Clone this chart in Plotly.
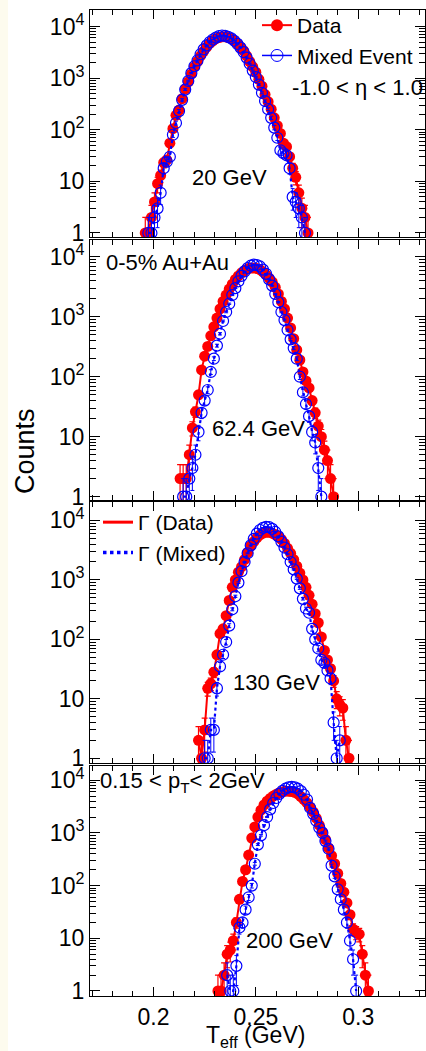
import numpy as np
import plotly.graph_objects as go
from plotly.subplots import make_subplots

# histogram bins: first bin centre of each panel and common bin width (GeV)
bin_start = [0.1960, 0.2130, 0.2220, 0.2315]
bin_width = 0.0015
energies = ["20 GeV", "62.4 GeV", "130 GeV", "200 GeV"]

# counts, one list per panel
data_20 = [1, 1, 2, 4, 9, 13, 23, 26, 55, 105, 190, 240, 400, 620, 850, 1200, 1650, 2100,
           2700, 3300, 4000, 4700, 5300, 5800, 6100, 6300, 6300, 6100, 5800, 5300, 4700,
           4000, 3400, 2700, 2100, 1650, 1300, 950, 700, 480, 350, 250, 170, 120, 85, 55,
           47, 30, 18, 12, 6, 3, 2, 1]
mixed_20 = [None, 1, 1, 2, 3, 6, 18, 24, 30, 80, 135, 230, 380, 600, 880, 1250, 1700, 2200,
            2900, 3600, 4300, 5000, 5600, 6100, 6500, 6700, 6600, 6300, 5900, 5300, 4600,
            3900, 3200, 2500, 1900, 1400, 1050, 750, 520, 360, 250, 170, 110, 70, 40, 35,
            32, 18, 5, 4, 3, 2, 1, None]

data_62 = [2, 2, 2, 5, 14, 26, 50, 130, 220, 320, 480, 680, 950, 1350, 1800, 2300, 2900,
           3500, 4200, 4800, 5400, 5900, 6300, 6500, 6500, 6400, 6100, 5600, 5000, 4400,
           3800, 3100, 2400, 1800, 1350, 950, 650, 430, 280, 190, 120, 85, 65, 40, 25, 15,
           10, 6, 4, 2, 1]
mixed_62 = [None, 1, 1, 2, 3, 5, 12, 25, 40, 60, 120, 200, 330, 520, 850, 1200, 1650, 2300,
            3000, 3900, 4800, 5700, 6500, 7100, 7400, 7300, 6900, 6100, 5200, 4200, 3300,
            2400, 1750, 1200, 880, 600, 420, 300, 200, 100, 55, 35, 22, 12, 8, 3, 1, None,
            None, None, None]

data_130 = [2, 1, 3, 15, 18, 28, 55, 125, 150, 250, 450, 750, 1000, 1350, 1650, 2200, 2900,
            3700, 4400, 5100, 5700, 6100, 6300, 6300, 6100, 5800, 5400, 4800, 4100, 3400,
            2800, 2200, 1700, 1300, 1000, 750, 550, 390, 270, 190, 110, 65, 45, 32, 20, 10,
            8, 7, 2, 1]
mixed_130 = [None, None, 1, 1, 3, 3, 15, 35, 55, 90, 170, 320, 530, 900, 1400, 2000, 2800,
             3800, 4900, 6000, 6900, 7500, 7800, 7700, 7200, 6400, 5400, 4400, 3500, 2700,
             2000, 1500, 1050, 720, 480, 330, 280, 150, 100, 70, 45, 40, 30, 22, 4, 1, 2,
             None, None, None]

data_200 = [1, 1, 2, 5, 6, 9, 20, 55, 120, 200, 380, 800, 1300, 2000, 2700, 3400, 4000,
            4500, 5000, 5400, 5800, 6000, 6200, 6200, 6100, 5900, 5500, 4900, 4300, 3700,
            3100, 2500, 1900, 1400, 1050, 750, 520, 370, 260, 170, 110, 75, 47, 28, 15, 13,
            12, 5, 2, 1]
mixed_200 = [None, None, None, 2, 1, 1, 3, 16, 20, 35, 60, 100, 260, 600, 900, 1400, 2000,
             2800, 3700, 4600, 5500, 6300, 6900, 7300, 7500, 7300, 6900, 6200, 5300, 4300,
             3000, 2300, 1700, 1250, 1000, 700, 500, 240, 150, 85, 55, 35, 20, 9, 4, 1, None,
             None, None, None]

data_sets = [data_20, data_62, data_130, data_200]
mixed_sets = [mixed_20, mixed_62, mixed_130, mixed_200]

RED = "#ff0000"
BLUE = "#0000ff"
FONT = "Liberation Sans"

fig = make_subplots(rows=4, cols=1, shared_xaxes=True)

for i in range(4):
    row = i + 1
    d = np.array(data_sets[i], dtype=float)
    m = np.array([np.nan if v is None else v for v in mixed_sets[i]], dtype=float)
    x = bin_start[i] + bin_width * np.arange(len(d))

    fig.add_trace(go.Scatter(
        x=x, y=d, mode="lines+markers",
        line=dict(color=RED, width=2),
        marker=dict(color=RED, size=11, symbol="circle"),
        error_y=dict(type="data", array=np.sqrt(d), color=RED, thickness=1.2, width=3),
        showlegend=False), row=row, col=1)
    fig.add_trace(go.Scatter(
        x=x, y=m, mode="markers",
        marker=dict(color=BLUE, size=11, symbol="circle-open", line=dict(width=1.2)),
        error_y=dict(type="data", array=np.sqrt(m), color=BLUE, thickness=1, width=2),
        showlegend=False), row=row, col=1)
    fig.add_trace(go.Scatter(
        x=x, y=m, mode="lines", connectgaps=False,
        line=dict(color=BLUE, width=2.2, dash="dot"),
        showlegend=False), row=row, col=1)

# legend entries
fig.add_trace(go.Scatter(x=[None], y=[None], mode="lines+markers", name="Data",
                         line=dict(color=RED, width=2), marker=dict(color=RED, size=12),
                         legend="legend"), row=1, col=1)
fig.add_trace(go.Scatter(x=[None], y=[None], mode="lines+markers", name="Mixed Event",
                         line=dict(color=BLUE, width=1.5),
                         marker=dict(color=BLUE, size=12, symbol="circle-open"),
                         legend="legend"), row=1, col=1)
fig.add_trace(go.Scatter(x=[None], y=[None], mode="lines", name="Γ (Data)",
                         line=dict(color=RED, width=3), legend="legend2"), row=3, col=1)
fig.add_trace(go.Scatter(x=[None], y=[None], mode="lines", name="Γ (Mixed)",
                         line=dict(color=BLUE, width=3.5, dash="dot"), legend="legend2"),
              row=3, col=1)

H = 1051.0
W = 426.0
# panel frames in pixels (top, bottom)
frames = [(10, 237), (240, 500), (502, 763), (766, 996)]
y_ranges = [[-0.078, 4.32], [-0.056, 4.28], [-0.08, 4.31], [-0.095, 4.27]]

minor_vals = [k * 10 ** e for e in range(0, 5) for k in range(2, 10)]

for i in range(4):
    top, bot = frames[i]
    fig.update_yaxes(
        type="log", range=y_ranges[i], domain=[1 - bot / H, 1 - top / H],
        tickmode="array", tickvals=[1, 10, 100, 1000, 10000],
        ticktext=["1", "10", "10<sup>2</sup>", "10<sup>3</sup>", "10<sup>4</sup>"],
        ticks="inside", ticklen=10, tickcolor="black",
        minor=dict(tickmode="array", tickvals=minor_vals, ticks="inside", ticklen=6,
                   tickcolor="black", showgrid=False),
        showline=True, linecolor="black", linewidth=1, mirror="ticks",
        showgrid=False, zeroline=False, automargin=False,
        tickfont=dict(family=FONT, size=23, color="black"),
        row=i + 1, col=1)

fig.update_xaxes(
    range=[0.169, 0.3325], domain=[90 / W, 0.997],
    tickmode="linear", tick0=0, dtick=0.05,
    ticks="inside", ticklen=9, tickcolor="black",
    minor=dict(dtick=0.01, ticks="inside", ticklen=5, tickcolor="black", showgrid=False),
    showline=True, linecolor="black", linewidth=1, mirror="ticks",
    showgrid=False, zeroline=False, automargin=False,
    tickfont=dict(family=FONT, size=23, color="black"))

txt = dict(family=FONT, size=22, color="black")
notes = [
    ("-1.0 < η < 1.0", 425, 88, "right"),
    (energies[0], 229, 177, "center"),
    ("0-5% Au+Au", 104, 262, "left"),
    (energies[1], 258, 428, "center"),
    (energies[2], 276, 682, "center"),
    ("0.15 < p<sub>T</sub>< 2GeV", 98, 782, "left"),
    (energies[3], 289, 940, "center"),
]
annotations = []
for text, px, py, anchor in notes:
    annotations.append(dict(text=text, x=px / W, y=1 - py / H, xref="paper", yref="paper",
                            xanchor=anchor, yanchor="middle", showarrow=False, font=txt))
annotations.append(dict(text="Counts", x=25 / W, y=1 - 451 / H, xref="paper", yref="paper",
                        xanchor="center", yanchor="middle", textangle=-90, showarrow=False,
                        font=dict(family=FONT, size=27, color="black")))
annotations.append(dict(text="T<sub>eff</sub> (GeV)", x=255 / W, y=1 - 1036 / H, xref="paper",
                        yref="paper", xanchor="center", yanchor="middle", showarrow=False,
                        font=dict(family=FONT, size=23, color="black")))

fig.update_layout(
    width=426, height=1051,
    margin=dict(l=0, r=0, t=0, b=0, pad=0, autoexpand=False),
    paper_bgcolor="white", plot_bgcolor="white",
    annotations=annotations,
    shapes=[dict(type="rect", xref="paper", yref="paper", x0=0, x1=8 / W, y0=0, y1=1,
                 fillcolor="#fdfbee", line=dict(width=0), layer="below")],
    legend=dict(x=257 / W, y=1 - 5 / H, xanchor="left", yanchor="top",
                bgcolor="rgba(0,0,0,0)", font=dict(family=FONT, size=21, color="black"),
                tracegroupgap=0, itemwidth=30),
    legend2=dict(x=98 / W, y=1 - 502 / H, xanchor="left", yanchor="top",
                 bgcolor="rgba(0,0,0,0)", font=dict(family=FONT, size=21, color="black"),
                 tracegroupgap=0, itemwidth=30),
)

fig.write_html("out.html", config={"displayModeBar": False},
               post_script="document.body.style.margin='0';")
